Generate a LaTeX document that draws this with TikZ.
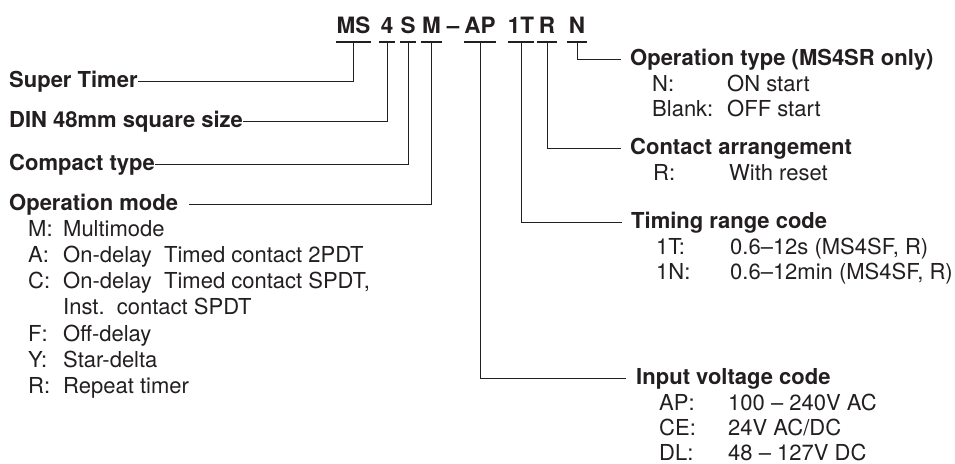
\documentclass[tikz,border=0pt]{standalone}
\usepackage{fontspec}
\setmainfont{TeX Gyre Heros}
\usepackage{array}
\usetikzlibrary{calc}
\definecolor{ink}{RGB}{35,31,32}

\begin{document}
\begin{tikzpicture}[x=1pt, y=-1pt,
    every node/.style={inner sep=0pt, text=ink},
    code/.style={font=\bfseries\fontsize{22.5}{24}\selectfont, anchor=base, minimum width=#1},
    head/.style={font=\bfseries\fontsize{22}{24}\selectfont, anchor=base west, text height=16pt, text depth=4.6pt},
    items/.style={font=\fontsize{22}{#1}\selectfont, anchor=base west, align=left},
    bar/.style={ink, line width=2.4pt},
    link/.style={ink, line width=0.8pt}]
    \useasboundingbox (0,0) rectangle (955,463);

    % Model code
    \node[code=35] (ms) at (353.5,33) {MS};
    \node[code=16] (four) at (387,33) {4};
    \node[code=16] (s) at (408,33) {S};
    \node[code=21] (m) at (431.5,33) {M};
    \node[code=10] (hyph) at (453,33) {--};
    \node[code=32] (ap) at (480,33) {AP};
    \node[code=20] (oneT) at (521,33) {1T};
    \node[code=20] (r) at (547,33) {R};
    \node[code=20] (n) at (577,33) {N};
    \foreach \c in {ms,four,s,m,ap,oneT,r,n}
        \draw[bar] ([yshift=-8.7pt]\c.base west) -- ([yshift=-8.7pt]\c.base east);

    % Left side
    \node[head] (super) at (9,87) {Super Timer};
    \node[head] (din) at (9,127) {DIN 48mm square size};
    \node[head] (compact) at (9,170) {Compact type};
    \node[head] (opmode) at (9,210) {Operation mode};
    \node[items=26.3] (modes) at (28,236) {\begin{tabular}[t]{@{}p{35pt}@{}l@{}}
        M: & Multimode\\
        A: & On-delay\ \ Timed contact 2PDT\\
        C: & On-delay\ \ Timed contact SPDT,\\
           & Inst.\ \ contact SPDT\\
        F: & Off-delay\\
        Y: & Star-delta\\
        R: & Repeat timer
    \end{tabular}};

    \draw[link] ([yshift=-8.7pt]ms.base) |- (super.east);
    \draw[link] ([yshift=-8.7pt]four.base) |- (din.east);
    \draw[link] ([yshift=-8.7pt]s.base) |- (compact.east);
    \draw[link] ([yshift=-8.7pt]m.base) |- ([xshift=11pt]opmode.east);

    % Right side
    \node[head] (optype) at (630,65) {Operation type (MS4SR only)};
    \node[items=25] (starts) at (652,91) {\begin{tabular}[t]{@{}p{75pt}@{}l@{}}
        N: & ON start\\
        Blank: & OFF start
    \end{tabular}};
    \node[head] (contact) at (630,154) {Contact arrangement};
    \node[items=25] (resets) at (653,180) {\begin{tabular}[t]{@{}p{76pt}@{}l@{}}
        R: & With reset
    \end{tabular}};
    \node[head] (timing) at (631,228) {Timing range code};
    \node[items=25] (ranges) at (656,254) {\begin{tabular}[t]{@{}p{74pt}@{}l@{}}
        1T: & 0.6--12s (MS4SF, R)\\
        1N: & 0.6--12min (MS4SF, R)
    \end{tabular}};
    \node[head] (input) at (636,384) {Input voltage code};
    \node[items=25] (voltages) at (659,410) {\begin{tabular}[t]{@{}p{69pt}@{}l@{}}
        AP: & 100 -- 240V AC\\
        CE: & 24V AC/DC\\
        DL: & 48 -- 127V DC
    \end{tabular}};

    \draw[link] ([yshift=-8.7pt]n.base) |- ([xshift=-9pt]optype.west);
    \draw[link] ([yshift=-8.7pt]r.base) |- ([xshift=-9pt]contact.west);
    \draw[link] ([yshift=-8.7pt]oneT.base) |- ([xshift=-9pt]timing.west);
    \draw[link] ([yshift=-8.7pt]ap.base) |- ([xshift=-10pt]input.west);
\end{tikzpicture}
\end{document}
